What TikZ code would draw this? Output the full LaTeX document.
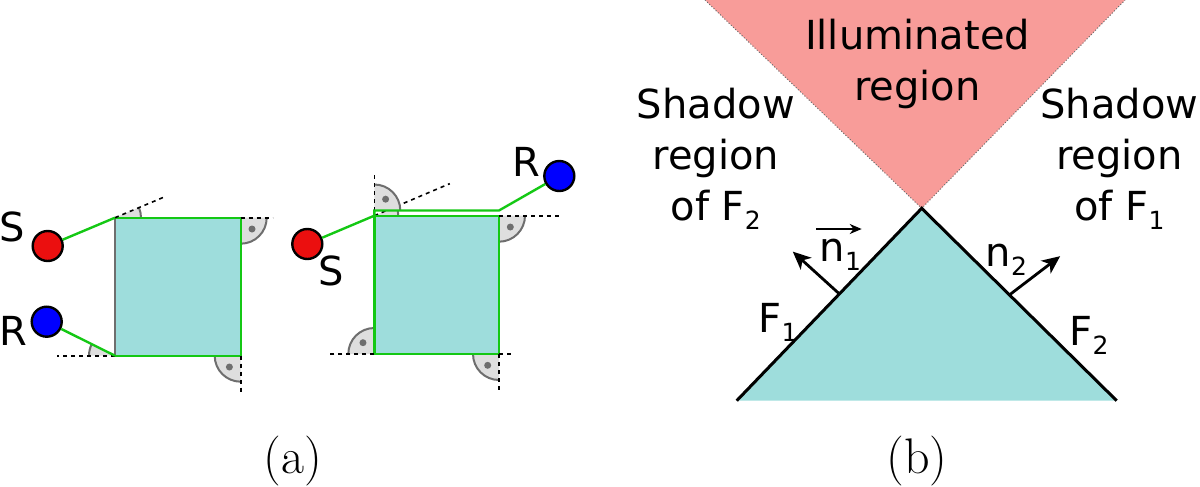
\documentclass[tikz,border=0pt]{standalone}
\usepackage{fontspec}
\usepackage{tikz}
\usetikzlibrary{calc,shapes,arrows,arrows.meta}
\newfontfamily\labelfont{DejaVu Sans}

\definecolor{body}{RGB}{158,221,220}
\definecolor{lit}{RGB}{248,156,153}
\definecolor{raygreen}{RGB}{20,200,20}
\definecolor{srcred}{RGB}{235,15,15}
\definecolor{rcvblue}{RGB}{0,0,255}
\definecolor{angfill}{RGB}{222,222,222}
\definecolor{angline}{RGB}{110,110,110}

\tikzset{
  pt/.style={circle,draw=black,line width=1.2pt,minimum size=15pt,inner sep=0pt},
  ray/.style={raygreen,line width=1.2pt},
  ext/.style={black,line width=0.8pt,dash pattern=on 2pt off 2pt},
  normal/.style={-{Stealth[length=9pt,width=8pt,inset=2.5pt]},line width=1.4pt},
  lbl/.style={font=\labelfont\fontsize{20}{25.5}\selectfont,inner sep=0pt},
  captxt/.style={font=\fontsize{25}{30}\selectfont,inner sep=0pt}
}

\newcommand{\lowidx}[1]{\raisebox{-4.5pt}{\fontsize{12.5}{12.5}\selectfont #1}}
\newcommand{\wedgemark}[4]{%
  \fill[angfill] #1 -- ++(#2:#4) arc[start angle=#2,end angle=#3,radius=#4] -- cycle;
  \draw[angline,line width=1pt] #1 ++(#2:#4) arc[start angle=#2,end angle=#3,radius=#4];
}
\newcommand{\rtmark}[2]{%
  \wedgemark{#1}{#2}{#2+90}{26}
  \fill[angline] #1 ++(#2+45:16) circle[radius=3.5];
}

\begin{document}
\begin{tikzpicture}[x=0.5pt,y=0.5pt]
    \useasboundingbox (0,0) rectangle (1200,-487);

    \coordinate (atl) at (115,-217.7);
    \coordinate (atr) at (240.7,-217.7);
    \coordinate (abr) at (240.7,-355.7);
    \coordinate (abl) at (115,-355.7);
    \node[pt,fill=srcred] (S1) at (47.7,-246) {};
    \node[pt,fill=rcvblue] (R1) at (46.7,-321.7) {};

    \wedgemark{(atl)}{0}{22.8}{26}
    \wedgemark{(abl)}{153.5}{180}{26}
    \rtmark{(atr)}{-90}
    \rtmark{(abr)}{180}
    \fill[body] (atl) rectangle (abr);
    \draw[angline,line width=1pt] (atl) -- (abl);
    \draw[ray] (abl) -- (abr) -- (atr) -- (atl);
    \draw[ext] (atl) -- ++(22.8:52);
    \draw[ext] (atr) -- ++(32,0);
    \draw[ext] (abr) -- ++(0,-36);
    \draw[ext] (abl) -- ++(-58,0);
    \draw[ray] (S1) -- (atl);
    \draw[ray] (R1) -- (abl);
    \node[lbl,anchor=base] (S1lab) at (12,-241) {S};
    \node[lbl,anchor=base] (R1lab) at (13,-345) {R};

    \coordinate (btl) at (374.3,-215.7);
    \coordinate (btr) at (499,-215.7);
    \coordinate (bbr) at (499,-354);
    \coordinate (bbl) at (374.3,-354);
    \coordinate (bup) at (374.3,-210.5);
    \coordinate (bupr) at (499,-210.5);
    \node[pt,fill=srcred] (S2) at (307.3,-244) {};
    \node[pt,fill=rcvblue] (R2) at (559.3,-176) {};

    \wedgemark{(btl)}{0}{23}{24}
    \draw[ext] (btl) -- ++(23:82);
    \rtmark{(bup)}{0}
    \rtmark{(btr)}{-90}
    \rtmark{(bbr)}{180}
    \rtmark{(bbl)}{90}
    \fill[body] (btl) rectangle (bbr);
    \draw[ray] (btl) rectangle (bbr);
    \draw[ext] (bup) -- ++(0,38);
    \draw[ext] (btr) -- ++(63,0);
    \draw[ext] (bbr) -- ++(14,0);
    \draw[ext] (bbr) -- ++(0,-39);
    \draw[ext] (bbl) -- ++(-45,0);
    \draw[ray] (S2) -- (btl) -- (bup) -- (bupr) -- (R2);
    \node[lbl,anchor=base] (S2lab) at (331,-285) {S};
    \node[lbl,anchor=base] (R2lab) at (526,-176) {R};

    \node[captxt,anchor=base] (capa) at (293,-473.5) {(a)};

    \coordinate (apex) at (921.7,-208.3);
    \coordinate (bl) at (736.7,-400.7);
    \coordinate (br) at (1116.7,-400.7);
    \coordinate (litl) at (705,0);
    \coordinate (litr) at (1125,0);
    \fill[lit] (litl) -- (apex) -- (litr) -- cycle;
    \draw[densely dotted,angline,line width=0.5pt] (litl) -- (apex) -- (litr);
    \fill[body] (bl) -- (apex) -- (br) -- cycle;
    \draw[line width=1.5pt] (bl) -- (apex) -- (br);

    \coordinate (f1) at ($(bl)!0.555!(apex)$);
    \coordinate (f2) at ($(apex)!0.45!(br)$);
    \draw[normal] (f1) -- ++(-46.6,42.3);
    \draw[normal] (f2) -- ++(50.7,38.7);

    \node[lbl,anchor=base] (n1lab) at (840.5,-261.7) {n\lowidx{1}};
    \node[lbl,anchor=base] (n2lab) at (1006.5,-266) {n\lowidx{2}};
    \draw[-{Stealth[length=6pt,width=5pt]},line width=1pt] ($(n1lab.base)+(-24.5,32.7)$) -- ($(n1lab.base)+(21.2,32.7)$);
    \node[lbl,anchor=base] (f1lab) at (778,-332) {F\lowidx{1}};
    \node[lbl,anchor=base] (f2lab) at (1089,-345) {F\lowidx{2}};

    \node[lbl,anchor=base,align=center] (illum) at (917.5,-100) {Illuminated\\region};
    \node[lbl,anchor=base,align=center] (shadl) at (715.8,-220) {Shadow\\region\\of F\lowidx{2}};
    \node[lbl,anchor=base,align=center] (shadr) at (1119.5,-220) {Shadow\\region\\of F\lowidx{1}};

    \node[captxt,anchor=base] (capb) at (917,-473.5) {(b)};
\end{tikzpicture}
\end{document}
